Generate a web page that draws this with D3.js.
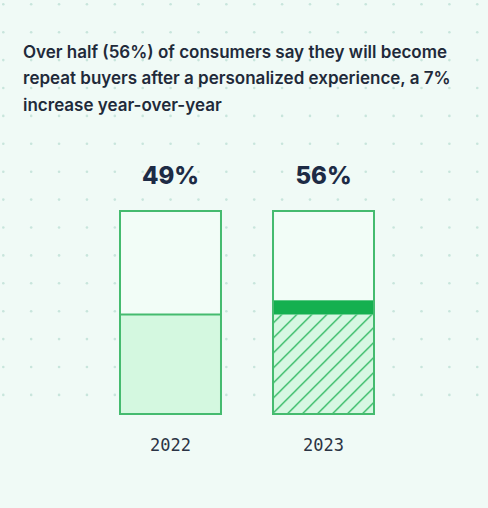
<!DOCTYPE html>
<html>
<head>
<meta charset="utf-8">
<script src="https://cdn.jsdelivr.net/npm/d3@7"></script>
<style>
  html, body { margin: 0; padding: 0; background: #f0faf6; }
  svg { display: block; }
</style>
</head>
<body>
<svg id="chart" width="488" height="508"></svg>
<script>
// ---- data ----
const titleLines = [
  "Over half (56%) of consumers say they will become",
  "repeat buyers after a personalized experience, a 7%",
  "increase year-over-year"
];
const years = ["2022", "2023"];
const values = [49, 56];
const previousValues = [null, 49];
const valueLabels = ["49%", "56%"];

const W = 488, H = 508;
const svg = d3.select("#chart");

// background
svg.append("rect").attr("width", W).attr("height", H).attr("fill", "#f0faf6");

// dot grid
const cols = d3.range(18), rows = d3.range(15);
const dotG = svg.append("g");
rows.forEach(r => cols.forEach(c => {
  dotG.append("circle")
    .attr("cx", 3.3 + c * 27.88)
    .attr("cy", 4.3 + r * 27.9)
    .attr("r", 1.3)
    .attr("fill", "#c8e5dc");
}));

// hatch pattern
const defs = svg.append("defs");
const pat = defs.append("pattern")
  .attr("id", "hatch")
  .attr("patternUnits", "userSpaceOnUse")
  .attr("width", 15).attr("height", 15)
  .attr("x", 11.3).attr("y", 0);
pat.append("rect").attr("width", 15).attr("height", 15).attr("fill", "#d6f7e2");
pat.append("path")
  .attr("d", "M-3.75,3.75 L3.75,-3.75 M0,15 L15,0 M11.25,18.75 L18.75,11.25")
  .attr("stroke", "#2cb75f").attr("stroke-width", 1.3);

// title
const title = svg.append("text")
  .attr("font-family", "Inter, 'Open Sans', sans-serif")
  .attr("font-weight", 600)
  .attr("font-size", 17)
  .attr("fill", "#1f2a3a");
titleLines.forEach((t, i) => {
  title.append("tspan").attr("x", 23).attr("y", 57.5 + i * 26.5).text(t);
});

// scales
const x = d3.scaleBand().domain(years).range([120, 374]).paddingInner(0.34).paddingOuter(0);
const y = d3.scaleLinear().domain([0, 100]).range([414, 211]);

const strokeC = "#45bb6f";

years.forEach((yr, i) => {
  const x0 = x(yr), bw = x.bandwidth();
  const g = svg.append("g");
  // empty box
  g.append("rect")
    .attr("x", x0).attr("y", y(100))
    .attr("width", bw).attr("height", y(0) - y(100))
    .attr("fill", "#f2fdf7");
  if (previousValues[i] == null) {
    g.append("rect")
      .attr("x", x0).attr("y", y(values[i]))
      .attr("width", bw).attr("height", y(0) - y(values[i]))
      .attr("fill", "#d4f8e0");
    g.append("line")
      .attr("x1", x0).attr("x2", x0 + bw)
      .attr("y1", y(values[i])).attr("y2", y(values[i]))
      .attr("stroke", strokeC).attr("stroke-width", 2);
  } else {
    g.append("rect")
      .attr("x", x0).attr("y", y(previousValues[i]))
      .attr("width", bw).attr("height", y(0) - y(previousValues[i]))
      .attr("fill", "url(#hatch)");
    g.append("rect")
      .attr("x", x0).attr("y", y(values[i]))
      .attr("width", bw).attr("height", y(previousValues[i]) - y(values[i]))
      .attr("fill", "#15b050");
  }
  // outline
  g.append("rect")
    .attr("x", x0).attr("y", y(100))
    .attr("width", bw).attr("height", y(0) - y(100))
    .attr("fill", "none").attr("stroke", strokeC).attr("stroke-width", 2);

  // value label
  svg.append("text")
    .attr("x", x0 + bw / 2).attr("y", 183.5)
    .attr("text-anchor", "middle")
    .attr("font-family", "Inter, sans-serif")
    .attr("font-weight", 800)
    .attr("font-size", 24)
    .attr("fill", "#1d2b45")
    .text(valueLabels[i]);
});

// x axis labels
const axis = d3.axisBottom(x).tickSize(0).tickPadding(0);
const ax = svg.append("g").attr("transform", "translate(0,439)").call(axis);
ax.select(".domain").remove();
ax.selectAll("text")
  .attr("font-family", "'DejaVu Sans Mono', 'Liberation Mono', monospace")
  .attr("font-size", 17)
  .attr("fill", "#2b3344")
  .attr("dy", "0.71em");
</script>
</body>
</html>
